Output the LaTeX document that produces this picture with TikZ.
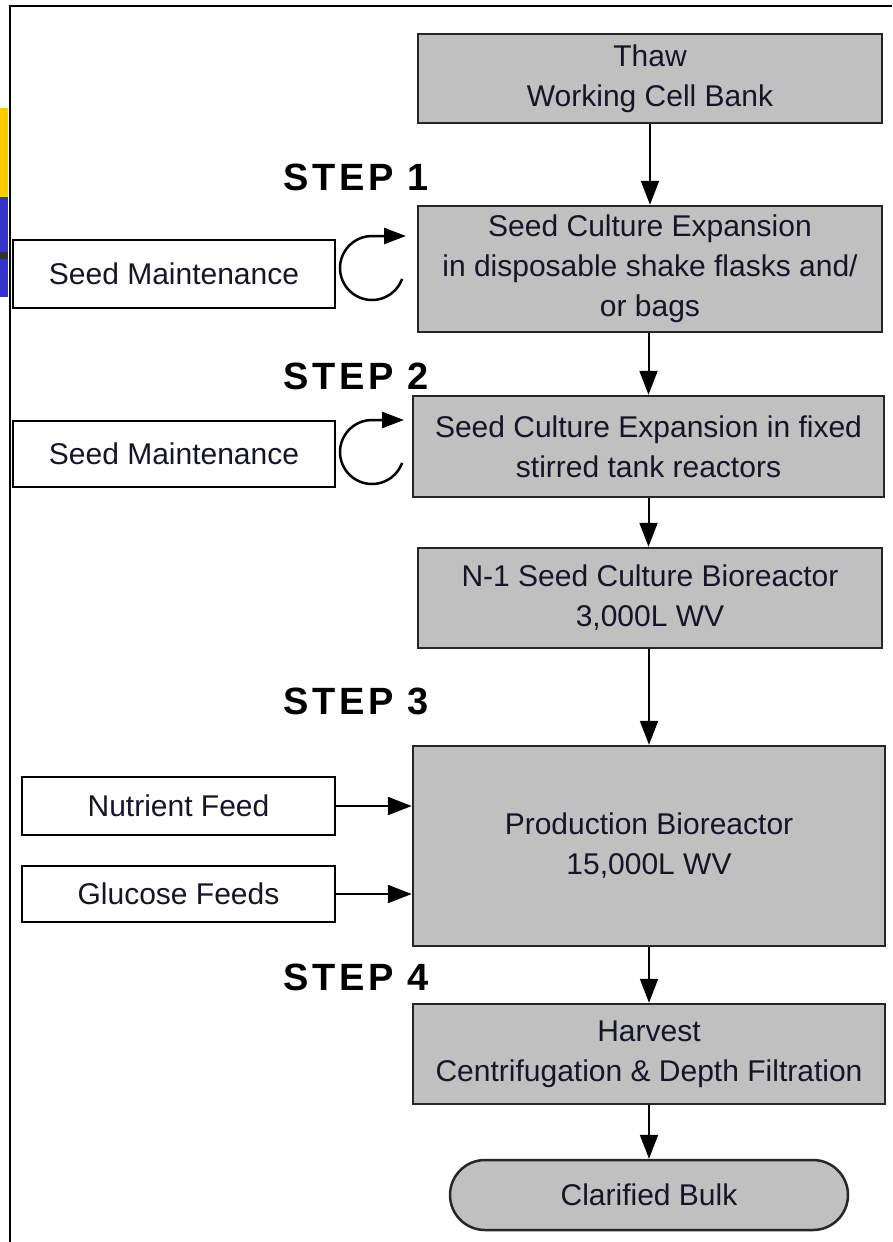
\documentclass[tikz,border=0pt]{standalone}
\usepackage{fontspec}
\setmainfont{Liberation Sans}
\definecolor{pfGray}{HTML}{C0C0C0}
\definecolor{pfLine}{HTML}{262626}
\definecolor{pfText}{HTML}{15152A}
\definecolor{pfYellow}{HTML}{FFCC00}
\definecolor{pfBlue}{HTML}{3333CC}
\definecolor{pfStripe}{HTML}{333333}
\usetikzlibrary{arrows.meta,positioning}

\begin{document}
\begin{tikzpicture}[x=1pt,y=-1pt,
  procbox/.style={draw=pfLine, line width=2.5pt, fill=pfGray, text=pfText,
    font=\fontsize{30}{40}\selectfont, align=center, inner sep=0pt},
  sidebox/.style={draw=black, line width=2.5pt, fill=white, text=pfText,
    font=\fontsize{30}{40}\selectfont, align=center, inner sep=0pt},
  steplabel/.style={font=\fontsize{38}{38}\bfseries\addfontfeature{LetterSpace=9}\selectfont,
    anchor=east, text=black},
  flow/.style={line width=2pt, -{Triangle[length=24pt,width=18pt]}},
  loopline/.style={line width=2.5pt, -{Triangle[length=22pt,width=16pt]}}]
  \useasboundingbox (0,0) rectangle (892,1242);

  % Slide edge
  \fill[pfYellow] (0,108) rectangle (8,197);
  \fill[pfBlue] (0,197) rectangle (8,297);
  \fill[pfStripe] (0,252) rectangle (8,259);
  \draw[line width=2pt] (10,1242) -- (10,6) -- (892,6);

  % Main flow
  \node[procbox, minimum width=464, minimum height=89] (thaw) at (650,78.5) {Thaw\\Working Cell Bank};
  \node[procbox, minimum width=464, minimum height=126] (flasks) at (650,269) {Seed Culture Expansion\\in disposable shake flasks and/\\or bags};
  \node[procbox, minimum width=471, minimum height=101] (stirred) at (648.5,446.5) {Seed Culture Expansion in fixed\\stirred tank reactors};
  \node[procbox, minimum width=464, minimum height=100] (nseed) at (650,598) {N-1 Seed Culture Bioreactor\\3,000L WV};
  \node[procbox, minimum width=472, minimum height=200] (prod) at (649,846) {Production Bioreactor\\15,000L WV};
  \node[procbox, minimum width=472, minimum height=100] (harvest) at (649,1054) {Harvest\\Centrifugation \& Depth Filtration};
  \node[procbox, minimum width=398, minimum height=70, rounded corners=35] (bulk) at (649,1195) {Clarified Bulk};

  % Side inputs
  \node[sidebox, minimum width=322, minimum height=68] (maintA) at (174,274) {Seed Maintenance};
  \node[sidebox, minimum width=322, minimum height=66] (maintB) at (174,454) {Seed Maintenance};
  \node[sidebox, minimum width=313, minimum height=58] (nutrient) at (178.5,806) {Nutrient Feed};
  \node[sidebox, minimum width=313, minimum height=56] (glucose) at (178.5,894) {Glucose Feeds};

  % Steps
  \node[steplabel] (stepA) at (432,177) {STEP 1};
  \node[steplabel] (stepB) at (432,376) {STEP 2};
  \node[steplabel] (stepC) at (432,701) {STEP 3};
  \node[steplabel] (stepD) at (432,977) {STEP 4};

  % Arrows
  \draw[flow] (thaw) -- (flasks);
  \draw[flow] (flasks.south -| stirred) -- (stirred);
  \draw[flow] (stirred) -- (nseed.north -| stirred);
  \draw[flow] (nseed.south -| prod) -- (prod);
  \draw[flow] (prod) -- (harvest);
  \draw[flow] (harvest) -- (bulk);
  \draw[flow] (nutrient.east) -- (nutrient.east -| prod.west);
  \draw[flow] (glucose.east) -- (glucose.east -| prod.west);

  % Recycle loops
  \coordinate (loopA) at (372,268);
  \coordinate (loopB) at (372,452);
  \draw[loopline] ([shift={(20:32)}]loopA) arc[start angle=20, end angle=270, radius=32] -- ++(34,0);
  \draw[loopline] ([shift={(20:32)}]loopB) arc[start angle=20, end angle=270, radius=32] -- ++(32,0);
\end{tikzpicture}
\end{document}
